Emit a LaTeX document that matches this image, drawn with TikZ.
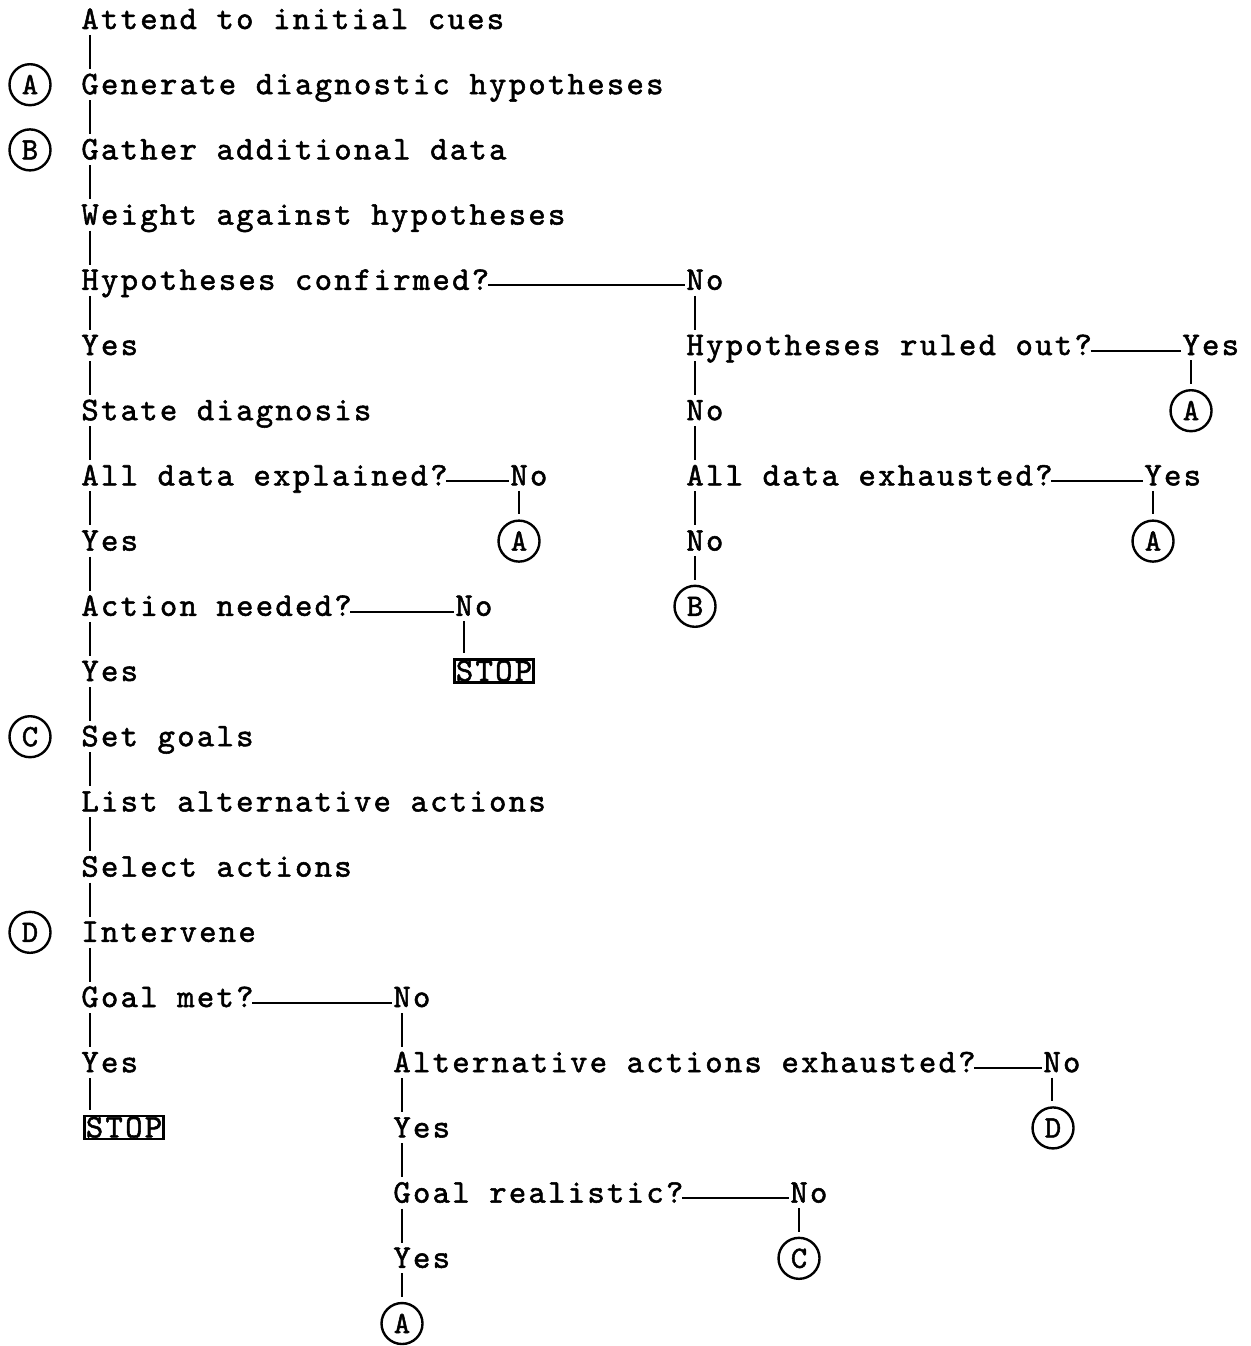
\documentclass[tikz,border=0pt]{standalone}
\usepackage{fontspec}
\newfontfamily\tw{lmmono10-regular.otf}[LetterSpace=7,FakeBold=1.6]
\newfontfamily\twc{lmmono10-regular.otf}[FakeBold=1.6]
\newcommand\vc[3][]{\path ([xshift=4.6pt]#2.south west) coordinate (tmpa);
  \draw[vl,#1] (tmpa) -- (tmpa |- #3.north);}
\newcommand\hc[2]{\draw[hl] ([xshift=-0.8pt]#1.mid east) -- ([xshift=-0.3pt]#2.mid west);}
\begin{document}
\begin{tikzpicture}[x=0.5pt,y=-32.6pt,
  t/.style={inner sep=0pt, anchor=base west, font=\tw\fontsize{16.5}{19}\selectfont, text height=10pt, text depth=0pt},
  circ/.style={draw, circle, line width=1.2pt, minimum size=20.5pt, inner sep=0pt, anchor=base, font=\twc\fontsize{15.5}{18}\selectfont, text height=9.5pt, text depth=0pt},
  stopbox/.style={draw, line width=1.3pt, inner xsep=0.8pt, inner ysep=0.8pt, anchor=base west, font=\tw\fontsize{16.5}{19}\selectfont, text height=10pt, text depth=0pt},
  vl/.style={line width=1.25pt, shorten <=2.8pt, shorten >=2.4pt},
  cl/.style={shorten >=2.5pt, shorten <=2.5pt},
  hl/.style={line width=1pt}]
\useasboundingbox (0,-0.4448) rectangle (1250,20.199);
% left column
\node[t] (l0) at (81,0) {Attend to initial cues};
\node[t] (l1) at (81,1) {Generate diagnostic hypotheses};
\node[t] (l2) at (81,2) {Gather additional data};
\node[t] (l3) at (81,3) {Weight against hypotheses};
\node[t] (l4) at (81,4) {Hypotheses confirmed?};
\node[t] (l5) at (81,5) {Yes};
\node[t] (l6) at (81,6) {State diagnosis};
\node[t] (l7) at (81,7) {All data explained?};
\node[t] (l8) at (81,8) {Yes};
\node[t] (l9) at (81,9) {Action needed?};
\node[t] (l10) at (81,10) {Yes};
\node[t] (l11) at (81,11) {Set goals};
\node[t] (l12) at (81,12) {List alternative actions};
\node[t] (l13) at (81,13) {Select actions};
\node[t] (l14) at (81,14) {Intervene};
\node[t] (l15) at (81,15) {Goal met?};
\node[t] (l16) at (81,16) {Yes};
\node[stopbox] (lstop) at (83,17) {STOP};
\node[circ] (cA1) at (30,1) {A};
\node[circ] (cB2) at (30,2) {B};
\node[circ] (cC11) at (30,11) {C};
\node[circ] (cD14) at (30,14) {D};
% explained / action branches
\node[t] (no7) at (510,7) {No};
\node[circ] (cA8a) at (519,8) {A};
\node[t] (no9) at (455,9) {No};
\node[stopbox] (mstop) at (453,10) {STOP};
% right column
\node[t] (rno4) at (686,4) {No};
\node[t] (r5) at (686,5) {Hypotheses ruled out?};
\node[t] (rno6) at (686,6) {No};
\node[t] (r7) at (686,7) {All data exhausted?};
\node[t] (rno8) at (686,8) {No};
\node[circ] (cB9) at (695,9) {B};
\node[t] (ry5) at (1182,5) {Yes};
\node[circ] (cA6) at (1191,6) {A};
\node[t] (ry7) at (1144,7) {Yes};
\node[circ] (cA8b) at (1153,8) {A};
% middle column
\node[t] (mno15) at (393,15) {No};
\node[t] (m16) at (393,16) {Alternative actions exhausted?};
\node[t] (my17) at (393,17) {Yes};
\node[t] (m18) at (393,18) {Goal realistic?};
\node[t] (my19) at (393,19) {Yes};
\node[circ] (cA20) at (402,20) {A};
\node[t] (mno16) at (1043,16) {No};
\node[circ] (cD17) at (1053,17) {D};
\node[t] (mno18) at (790,18) {No};
\node[circ] (cC19) at (799,19) {C};
% vertical connectors
\vc{l0}{l1} \vc{l1}{l2} \vc{l2}{l3} \vc{l3}{l4} \vc{l4}{l5} \vc{l5}{l6}
\vc{l6}{l7} \vc{l7}{l8} \vc{l8}{l9} \vc{l9}{l10} \vc{l10}{l11} \vc{l11}{l12}
\vc{l12}{l13} \vc{l13}{l14} \vc{l14}{l15} \vc{l15}{l16} \vc{l16}{lstop}
\vc[cl]{no7}{cA8a} \vc[cl]{no9}{mstop}
\vc{rno4}{r5} \vc{r5}{rno6} \vc{rno6}{r7} \vc{r7}{rno8} \vc[cl]{rno8}{cB9}
\vc[cl]{ry5}{cA6} \vc[cl]{ry7}{cA8b}
\vc{mno15}{m16} \vc{m16}{my17} \vc{my17}{m18} \vc{m18}{my19} \vc[cl]{my19}{cA20}
\vc[cl]{mno16}{cD17} \vc[cl]{mno18}{cC19}
% horizontal connectors
\hc{l4}{rno4} \hc{r5}{ry5} \hc{r7}{ry7} \hc{l7}{no7} \hc{l9}{no9}
\hc{l15}{mno15} \hc{m16}{mno16} \hc{m18}{mno18}
\end{tikzpicture}
\end{document}
